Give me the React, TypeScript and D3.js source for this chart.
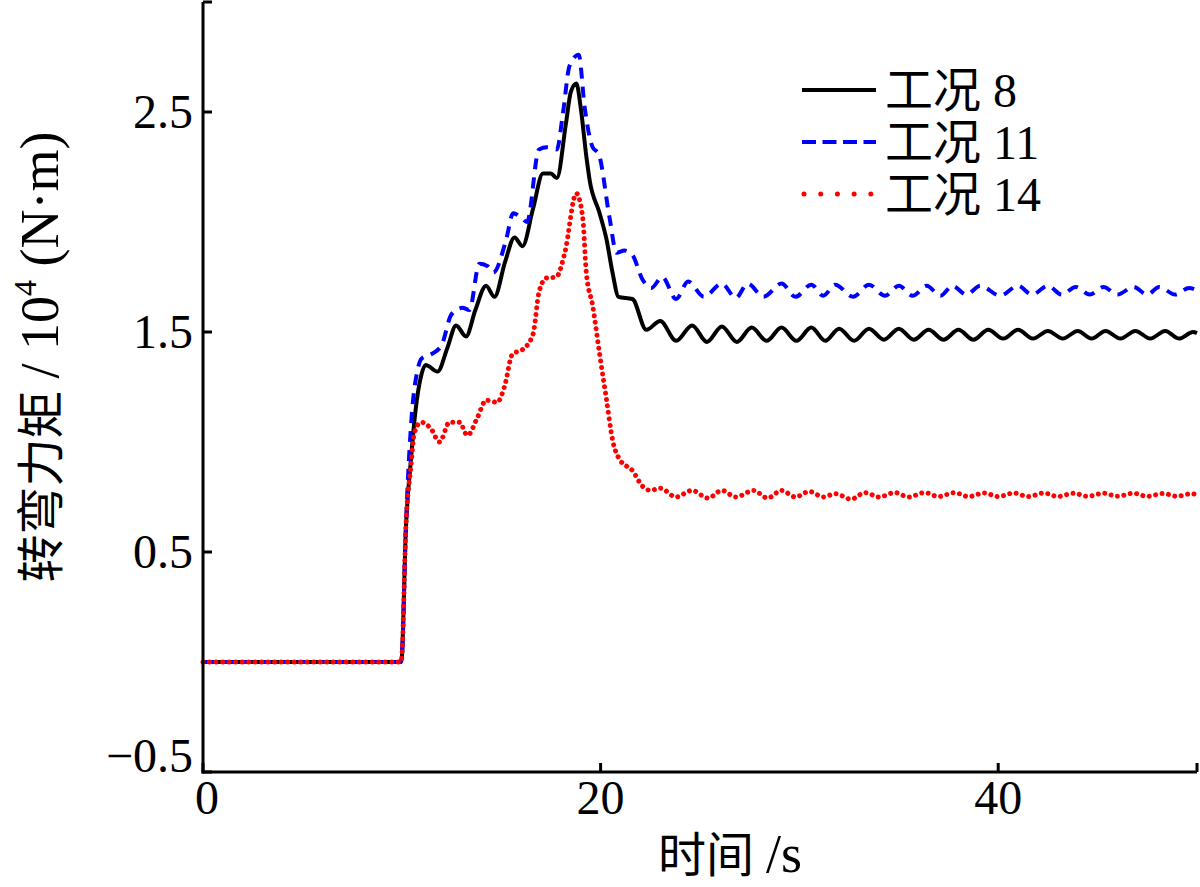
import { useRef, useEffect } from "react"
import * as d3 from "d3"

// turning moment (x10^4 N·m) vs time (s)
const case8: [number, number][] = [
  [0, 0], [9.95, 0], [10.0, 0.02], [10.2, 0.59], [10.46, 0.92], [10.7, 1.15], [10.97, 1.3], [11.2, 1.35],
  [11.8, 1.32], [12.3, 1.43], [12.73, 1.53], [13.23, 1.48], [13.7, 1.6], [14.24, 1.71], [14.66, 1.66],
  [15.2, 1.82], [15.67, 1.93], [16.07, 1.89], [16.6, 2.06], [17.1, 2.22], [17.5, 2.22], [17.8, 2.2],
  [18.26, 2.45], [18.5, 2.59], [18.78, 2.63], [19.0, 2.52], [19.28, 2.3], [19.45, 2.19], [19.95, 2.04],
  [20.3, 1.92], [20.6, 1.77], [20.9, 1.66], [21.6, 1.65], [22.3, 1.51], [23.0, 1.55], [23.8, 1.46],
  [24.6, 1.53], [25.35, 1.455], [26.1, 1.525], [26.85, 1.455], [27.6, 1.52], [28.35, 1.46], [29.1, 1.52],
  [29.85, 1.46], [30.6, 1.52], [31.3, 1.46], [32.0, 1.515], [32.75, 1.46], [33.5, 1.515], [34.25, 1.465],
  [35.0, 1.515], [35.75, 1.465], [36.5, 1.51], [37.25, 1.465], [38.0, 1.51], [38.75, 1.465], [39.5, 1.51],
  [40.25, 1.47], [41.0, 1.51], [41.75, 1.47], [42.5, 1.505], [43.25, 1.47], [44.0, 1.505], [44.7, 1.47],
  [45.4, 1.505], [46.15, 1.47], [46.9, 1.505], [47.65, 1.47], [48.4, 1.505], [49.1, 1.47], [49.8, 1.5],
  [50, 1.495],
]

const case11: [number, number][] = [
  [0, 0], [9.95, 0], [10.0, 0.02], [10.2, 0.6], [10.5, 1.12], [10.8, 1.33], [11.0, 1.38], [11.5, 1.4],
  [12.0, 1.44], [12.5, 1.58], [13.05, 1.61], [13.4, 1.6], [13.9, 1.81], [14.3, 1.8], [14.6, 1.77],
  [15.25, 1.92], [15.6, 2.04], [16.0, 2.02], [16.3, 2.0], [16.9, 2.33], [17.3, 2.34], [17.8, 2.33],
  [18.1, 2.49], [18.44, 2.71], [18.9, 2.76], [19.2, 2.52], [19.6, 2.34], [19.9, 2.31], [20.45, 2.02],
  [20.8, 1.86], [21.2, 1.87], [21.6, 1.85], [22.1, 1.74], [22.55, 1.7], [23.1, 1.75], [23.8, 1.65],
  [24.4, 1.73], [25.2, 1.66], [26.1, 1.72], [26.8, 1.655], [27.4, 1.72], [28.2, 1.66], [29.1, 1.72],
  [29.8, 1.66], [30.6, 1.715], [31.2, 1.665], [31.8, 1.715], [32.7, 1.66], [33.5, 1.715], [34.3, 1.665],
  [35.0, 1.71], [35.7, 1.665], [36.4, 1.71], [37.1, 1.665], [37.7, 1.71], [38.4, 1.67], [39.1, 1.71],
  [40.1, 1.665], [41.0, 1.71], [41.7, 1.67], [42.5, 1.71], [43.2, 1.67], [43.9, 1.705], [44.6, 1.67],
  [45.3, 1.705], [46.0, 1.67], [46.8, 1.705], [47.5, 1.67], [48.1, 1.705], [48.9, 1.67], [49.6, 1.7],
  [50, 1.69],
]

const case14: [number, number][] = [
  [0, 0], [9.95, 0], [10.0, 0.02], [10.2, 0.6], [10.46, 0.89], [10.63, 1.04], [10.97, 1.09], [11.47, 1.06],
  [11.9, 1.0], [12.4, 1.09], [12.9, 1.09], [13.3, 1.03], [13.8, 1.11], [14.24, 1.19], [14.8, 1.18],
  [15.16, 1.25], [15.57, 1.4], [16.07, 1.42], [16.6, 1.49], [16.9, 1.68], [17.26, 1.745], [17.77, 1.75],
  [18.2, 1.86], [18.78, 2.13], [19.1, 2.02], [19.28, 1.77], [19.6, 1.62], [19.95, 1.4], [20.3, 1.19],
  [20.6, 1.01], [20.96, 0.92], [21.6, 0.87], [22.1, 0.8], [22.5, 0.78], [23.0, 0.79], [23.8, 0.75],
  [24.6, 0.78], [25.4, 0.745], [26.1, 0.78], [26.8, 0.75], [27.7, 0.78], [28.4, 0.745], [29.1, 0.78],
  [29.8, 0.75], [30.5, 0.775], [31.2, 0.75], [31.8, 0.765], [32.6, 0.74], [33.3, 0.77], [34.0, 0.75],
  [34.8, 0.77], [35.5, 0.75], [36.3, 0.77], [37.0, 0.752], [37.8, 0.77], [38.5, 0.752], [39.3, 0.768],
  [40.0, 0.752], [40.8, 0.768], [41.5, 0.752], [42.3, 0.768], [43.0, 0.752], [43.8, 0.767], [44.5, 0.753],
  [45.3, 0.767], [46.0, 0.753], [46.8, 0.767], [47.5, 0.753], [48.3, 0.766], [49.0, 0.753], [49.7, 0.765],
  [50, 0.76],
]

const xTicks = [0, 20, 40, 50]
const xTickLabels = ["0", "20", "40", ""]
const yTicks = [-0.5, 0.5, 1.5, 2.5, 3]
const yTickLabels = ["\u22120.5", "0.5", "1.5", "2.5", ""]
const legendLabels = ["工况 8", "工况 11", "工况 14"]

const serif = "'Liberation Serif', 'Times New Roman', 'Noto Sans CJK SC', serif"

export default function App() {
  const svgRef = useRef<SVGSVGElement>(null)

  useEffect(() => {
    if (!svgRef.current) return
    const svg = d3.select(svgRef.current)
    svg.selectAll("*").remove()

    const x = d3.scaleLinear().domain([0, 50]).range([203, 1197])
    const y = d3.scaleLinear().domain([-0.5, 3]).range([772, 2])

    const line = d3
      .line<[number, number]>()
      .x((d) => x(d[0]))
      .y((d) => y(d[1]))
      .curve(d3.curveMonotoneX)

    const series = [
      { data: case8, color: "#000000", width: 4, dash: null, cap: "butt", legendDash: null },
      { data: case11, color: "#0000ff", width: 4, dash: "11 8", cap: "butt", legendDash: "14 6.5" },
      { data: case14, color: "#ff0000", width: 5, dash: "0.01 6.5", cap: "round", legendDash: "0.01 16.7" },
    ]

    // curves
    series.forEach((s) => {
      svg
        .append("path")
        .datum(s.data)
        .attr("d", line)
        .attr("fill", "none")
        .attr("stroke", s.color)
        .attr("stroke-width", s.width)
        .attr("stroke-linecap", s.cap)
        .attr("stroke-linejoin", "round")
        .attr("stroke-dasharray", s.dash)
    })

    // axes (ticks point inward)
    const axis = svg.append("g").attr("stroke", "#000").attr("stroke-width", 3).attr("fill", "none")
    axis.append("line").attr("x1", x(0)).attr("x2", x(0)).attr("y1", y(3)).attr("y2", y(-0.5) + 1.5)
    axis.append("line").attr("x1", x(0) - 1.5).attr("x2", x(50)).attr("y1", y(-0.5)).attr("y2", y(-0.5))
    axis
      .selectAll(".xt")
      .data(xTicks)
      .join("line")
      .attr("x1", (d) => x(d))
      .attr("x2", (d) => x(d))
      .attr("y1", y(-0.5))
      .attr("y2", y(-0.5) - 9)
    axis
      .selectAll(".yt")
      .data(yTicks)
      .join("line")
      .attr("x1", x(0))
      .attr("x2", x(0) + 9)
      .attr("y1", (d) => y(d))
      .attr("y2", (d) => y(d))

    svg
      .append("g")
      .selectAll("text")
      .data(xTicks)
      .join("text")
      .attr("x", (d) => x(d) + (d === 0 ? 4 : 0))
      .attr("y", 814)
      .attr("text-anchor", "middle")
      .attr("font-family", serif)
      .attr("font-size", 48)
      .text((d, i) => xTickLabels[i])

    svg
      .append("g")
      .selectAll("text")
      .data(yTicks)
      .join("text")
      .attr("x", 193)
      .attr("y", (d) => (d === -0.5 ? y(d) : y(d) + 16))
      .attr("text-anchor", "end")
      .attr("font-family", serif)
      .attr("font-size", 48)
      .text((d, i) => yTickLabels[i])

    // axis titles
    const xTitle = svg
      .append("text")
      .attr("x", 730)
      .attr("y", 872)
      .attr("text-anchor", "middle")
      .attr("font-family", serif)
      .attr("font-size", 48)
    xTitle.append("tspan").text("时间 ")
    xTitle.append("tspan").attr("font-size", 54).text("/s")

    const yTitle = svg
      .append("text")
      .attr("transform", "translate(58, 357) rotate(-90)")
      .attr("text-anchor", "middle")
      .attr("font-family", serif)
      .attr("font-size", 48)
    yTitle.append("tspan").text("转弯力矩 ")
    yTitle.append("tspan").attr("font-size", 54).text("/ 10")
    yTitle.append("tspan").attr("font-size", 32).attr("dy", -22).text("4")
    yTitle.append("tspan").attr("font-size", 54).attr("dy", 22).text(" (N·m)")

    // legend
    const legend = svg.append("g")
    series.forEach((s, i) => {
      const ly = 90 + i * 52
      legend
        .append("line")
        .attr("x1", s.cap === "round" ? 804 : 802)
        .attr("x2", 876)
        .attr("y1", ly)
        .attr("y2", ly)
        .attr("stroke", s.color)
        .attr("stroke-width", s.width)
        .attr("stroke-linecap", s.cap)
        .attr("stroke-dasharray", s.legendDash)
      legend
        .append("text")
        .attr("x", 885)
        .attr("y", ly + 17)
        .attr("font-family", serif)
        .attr("font-size", 48)
        .text(legendLabels[i])
    })
  }, [])

  return (
    <div style={{ position: "absolute", left: 0, top: 0 }}>
      <svg ref={svgRef} width={1200} height={887} style={{ background: "#fff", display: "block" }} />
    </div>
  )
}
